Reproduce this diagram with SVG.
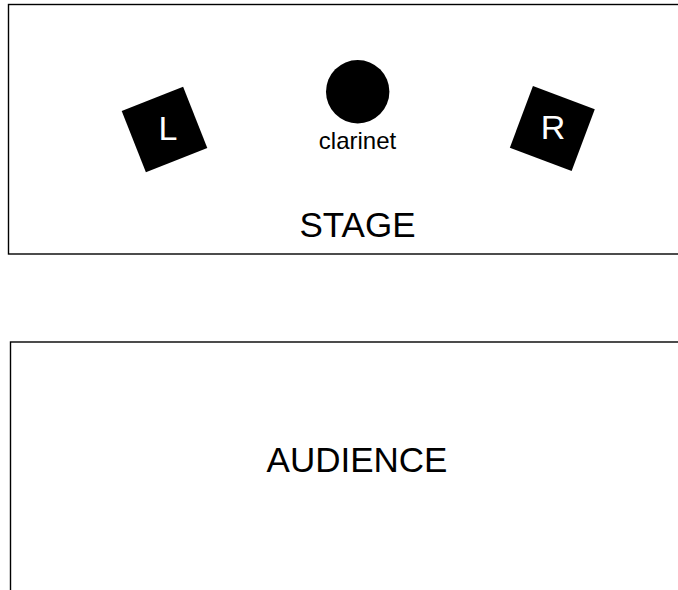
<svg xmlns="http://www.w3.org/2000/svg" width="678" height="590" viewBox="0 0 678 590">
  <style>
    .area { fill: #ffffff; stroke: #000000; stroke-width: 1.4; }
    .speaker { fill: #000000; }
    .lbl { font-family: "Liberation Sans", Arial, sans-serif; text-anchor: middle; }
    .spk-lbl { fill: #ffffff; font-size: 34px; }
    .big-lbl { fill: #000000; font-size: 35px; }
  </style>
  <rect width="678" height="590" fill="#ffffff"/>

  <!-- stage area -->
  <g id="stage">
    <rect class="area" x="8.5" y="4.5" width="700" height="249.5"/>
    <text class="lbl big-lbl" x="357.5" y="237">STAGE</text>
  </g>

  <!-- audience area -->
  <g id="audience">
    <rect class="area" x="10.5" y="342" width="700" height="300"/>
    <text class="lbl big-lbl" x="357" y="472">AUDIENCE</text>
  </g>

  <!-- left speaker -->
  <g id="speaker-left">
    <rect class="speaker" x="-33" y="-33" width="66" height="66" transform="translate(164.5 129.5) rotate(-21.5)"/>
    <text class="lbl spk-lbl" x="168" y="140">L</text>
  </g>

  <!-- clarinet position -->
  <g id="clarinet">
    <circle cx="357.7" cy="91.7" r="31.7" fill="#000000"/>
    <text class="lbl" x="357.5" y="149.3" style="font-size:24px">clarinet</text>
  </g>

  <!-- right speaker -->
  <g id="speaker-right">
    <rect class="speaker" x="-33" y="-33" width="66" height="66" transform="translate(552.3 128.5) rotate(20.5)"/>
    <text class="lbl spk-lbl" x="553" y="139">R</text>
  </g>

  <g id="connectors"></g>
</svg>
